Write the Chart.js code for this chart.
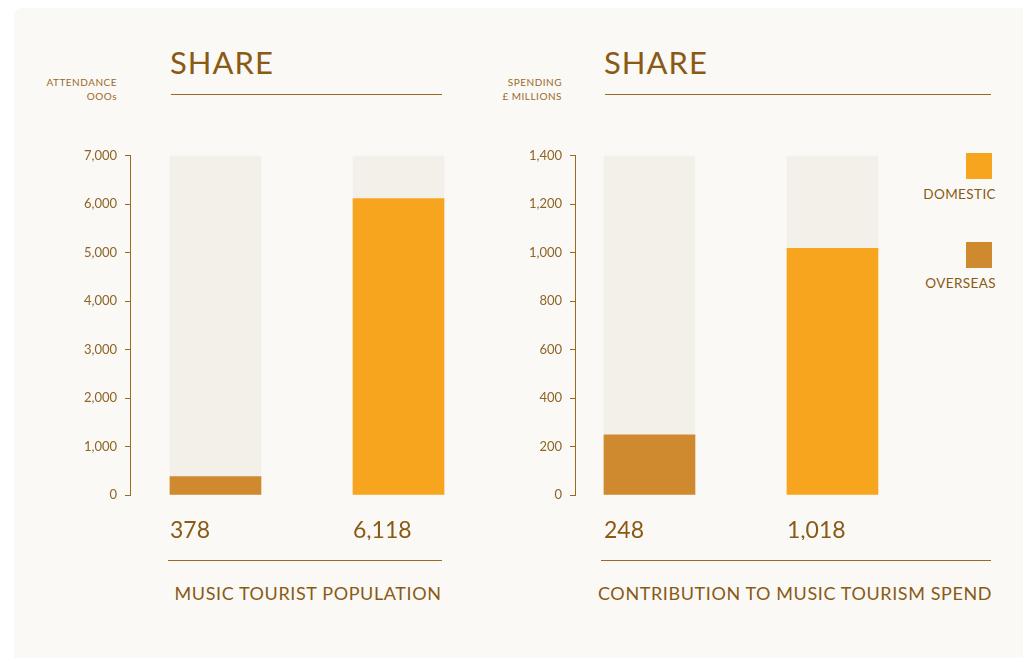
<!DOCTYPE html>
<html>
<head>
<meta charset="utf-8">
<script src="https://cdn.jsdelivr.net/npm/chart.js@4"></script>
<style>
  body { margin: 0; background: #fff; font-family: Lato, 'Open Sans', sans-serif; color: #8a5a14; }
  #panel { position: absolute; left: 14px; top: 8px; width: 1020px; height: 660px; background: #faf9f6; border-radius: 8px; }
  .abs { position: absolute; }
  .title { font-size: 31px; font-weight: 400; letter-spacing: 1px; color: #8a5a14; }
  .rule { height: 1px; background: #9a6a1e; }
  .unit { font-size: 10px; line-height: 14px; text-align: right; letter-spacing: 0.5px; color: #9a6a2a; width: 120px; }
  .caption { font-size: 18px; letter-spacing: 0.6px; color: #8a5a14; text-align: center; white-space: nowrap; }
  .swatch { width: 26px; height: 26px; }
  .legtext { font-size: 13.5px; letter-spacing: 0.4px; text-align: right; width: 120px; color: #8a5a14; }
  canvas { position: absolute; }
</style>
</head>
<body>
<div id="panel"></div>

<div class="abs title" style="left:170px; top:43px;">SHARE</div>
<div class="abs rule" style="left:171px; top:94px; width:271px;"></div>
<div class="abs unit" style="left:-3px; top:75px;">ATTENDANCE<br>OOOs</div>
<div class="abs rule" style="left:168px; top:560px; width:274px;"></div>
<div class="abs caption" style="left:172px; top:582px; width:272px;">MUSIC TOURIST POPULATION</div>

<div class="abs title" style="left:604px; top:43px;">SHARE</div>
<div class="abs rule" style="left:605px; top:94px; width:386px;"></div>
<div class="abs unit" style="left:442px; top:75px;">SPENDING<br>£ MILLIONS</div>
<div class="abs rule" style="left:601px; top:560px; width:390px;"></div>
<div class="abs caption" style="left:598px; top:582px; width:393px;">CONTRIBUTION TO MUSIC TOURISM SPEND</div>

<div class="abs swatch" style="left:966px; top:153px; background:#f7a51e;"></div>
<div class="abs legtext" style="left:876px; top:186px;">DOMESTIC</div>
<div class="abs swatch" style="left:966px; top:242px; background:#cf892e;"></div>
<div class="abs legtext" style="left:876px; top:275px;">OVERSEAS</div>

<canvas id="attChart" style="left:0px; top:140px;" width="460" height="400"></canvas>
<canvas id="spendChart" style="left:450px; top:140px;" width="450" height="400"></canvas>

<script>
// categories: left bar = overseas, right bar = domestic
const categories = ['Overseas', 'Domestic']
const attendance = [378, 6118]      // 000s
const spending = [248, 1018]        // £ millions
const attendanceMax = 7000
const attendanceStep = 1000
const spendingMax = 1400
const spendingStep = 200

const brown = '#8a5a14'
const axisBrown = '#9a6a1e'
const overseasColor = '#cf892e'
const domesticColor = '#f7a51e'
const bgBarColor = '#f3f0ea'
const barW = 91

// draws the big numbers under each bar, left aligned with the bar
const valueLabels = {
  id: 'valueLabels',
  afterDatasetsDraw(chart, args, opts) {
    const ctx = chart.ctx
    const xs = chart.scales.x
    ctx.save()
    ctx.font = '400 23px Lato, sans-serif'
    ctx.fillStyle = brown
    ctx.textBaseline = 'alphabetic'
    ctx.textAlign = 'left'
    chart.data.datasets.forEach((ds) => {
      if (!ds.isValue) return
      ds.data.forEach((pt) => {
        const left = xs.getPixelForValue(pt.x) - barW / 2
        ctx.fillText(pt.y.toLocaleString('en-US'), left, chart.chartArea.bottom + 43)
      })
    })
    ctx.restore()
  }
}

function makeChart(id, values, max, step, yWidth, xMin, xMax) {
  return new Chart(document.getElementById(id), {
    type: 'bar',
    data: {
      datasets: [
        {
          label: 'Overseas', isValue: true,
          data: [{ x: 0, y: values[0] }],
          backgroundColor: overseasColor, grouped: false, barThickness: barW, maxBarThickness: barW, order: 0
        },
        {
          label: 'Domestic', isValue: true,
          data: [{ x: 1, y: values[1] }],
          backgroundColor: domesticColor, grouped: false, barThickness: barW, maxBarThickness: barW, order: 0
        },
        {
          label: 'Total',
          data: categories.map((c, i) => ({ x: i, y: max })),
          backgroundColor: bgBarColor, grouped: false, barThickness: barW, maxBarThickness: barW, order: 1
        }
      ]
    },
    options: {
      responsive: false,
      animation: false,
      layout: { padding: { top: 15, bottom: 45, left: 0, right: 0 } },
      plugins: { legend: { display: false }, tooltip: { enabled: false } },
      scales: {
        x: {
          type: 'linear', display: false, offset: false, min: xMin, max: xMax,
          grid: { display: false }
        },
        y: {
          min: 0, max: max,
          ticks: { stepSize: step, color: '#8f6424', font: { family: 'Lato', size: 13 }, padding: 8 },
          grid: { drawOnChartArea: false, drawTicks: true, tickLength: 5, color: axisBrown, lineWidth: 1 },
          border: { display: true, color: axisBrown, width: 1 },
          afterFit(scale) { scale.width = yWidth }
        }
      }
    },
    plugins: [valueLabels]
  })
}

makeChart('attChart', attendance, attendanceMax, attendanceStep, 130, -0.467, 1.336)
makeChart('spendChart', spending, spendingMax, spendingStep, 125, -0.407, 1.369)
</script>
</body>
</html>
